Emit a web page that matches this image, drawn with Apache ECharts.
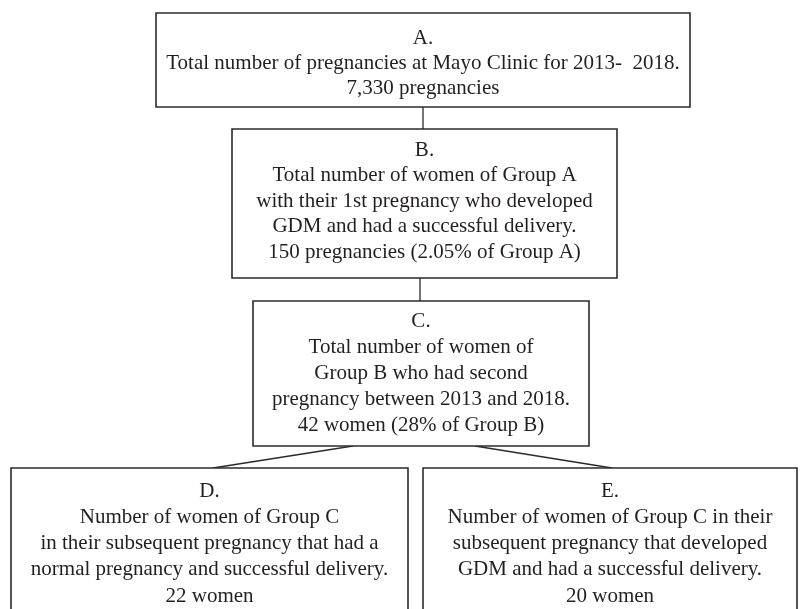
<!DOCTYPE html>
<html>
<head>
<meta charset="utf-8">
<script src="https://cdn.jsdelivr.net/npm/echarts@6/dist/echarts.min.js"></script>
<style>html,body{margin:0;padding:0;background:#fff}#c{width:808px;height:609px}</style>
</head>
<body>
<div id="c"></div>
<script>
// ---- data ----
const boxIds = ['A', 'B', 'C', 'D', 'E'];
const boxHeads = ['A.', 'B.', 'C.', 'D.', 'E.'];
const boxBodies = [
  ['Total number of pregnancies at Mayo Clinic for 2013-  2018.'],
  ['Total number of women of Group A', 'with their 1st pregnancy who developed', 'GDM and had a successful delivery.'],
  ['Total number of women of', 'Group B who had second', 'pregnancy between 2013 and 2018.'],
  ['Number of women of Group C', 'in their subsequent pregnancy that had a', 'normal pregnancy and successful delivery.'],
  ['Number of women of Group C in their', 'subsequent pregnancy that developed', 'GDM and had a successful delivery.']
];
const boxCounts = ['7,330 pregnancies', '150 pregnancies (2.05% of Group A)', '42 women (28% of Group B)', '22 women', '20 women'];
const links = [['A', 'B'], ['B', 'C'], ['C', 'D'], ['C', 'E']];

// ---- layout (positions in the hidden axis units) ----
const layout = {
  A: {x0: 156, x1: 690, y0: 13, y1: 107, ty: 25, lh: 25},
  B: {x0: 232, x1: 617, y0: 129, y1: 278, ty: 21, lh: 25.5},
  C: {x0: 253, x1: 589, y0: 301, y1: 446, ty: 20, lh: 26},
  D: {x0: 11, x1: 408, y0: 468, y1: 640, ty: 23, lh: 26.3},
  E: {x0: 423, x1: 797, y0: 468, y1: 640, ty: 23, lh: 26.3}
};
const linkLayout = {
  'A-B': {sx: 423, tx: 423},
  'B-C': {sx: 420, tx: 420},
  'C-D': {sx: 353, tx: 213},
  'C-E': {sx: 475, tx: 612}
};

const boxData = boxIds.map((id, i) => {
  const L = layout[id];
  return [L.x0, L.y0, L.x1, L.y1, i];
});
const linkData = links.map(([s, t]) => {
  const k = linkLayout[s + '-' + t];
  return [k.sx, layout[s].y1, k.tx, layout[t].y0];
});

const FONT = '"Liberation Serif", "DejaVu Serif", serif';
const FS = 21;
const chart = echarts.init(document.getElementById('c'), null, {renderer: 'canvas'});
chart.setOption({
  animation: false,
  backgroundColor: '#ffffff',
  grid: {left: 0, right: 0, top: 0, bottom: 0},
  xAxis: {type: 'value', min: 0, max: 808, show: false},
  yAxis: {type: 'value', min: 0, max: 609, inverse: true, show: false},
  series: [
    {
      type: 'custom',
      coordinateSystem: 'cartesian2d',
      data: linkData,
      clip: false,
      renderItem: function (params, api) {
        const p1 = api.coord([api.value(0), api.value(1)]);
        const p2 = api.coord([api.value(2), api.value(3)]);
        return {
          type: 'line',
          shape: {x1: p1[0], y1: p1[1], x2: p2[0], y2: p2[1]},
          style: {stroke: '#2b2b2b', lineWidth: 1.3}
        };
      }
    },
    {
      type: 'custom',
      coordinateSystem: 'cartesian2d',
      data: boxData,
      clip: false,
      renderItem: function (params, api) {
        const i = api.value(4);
        const L = layout[boxIds[i]];
        const p1 = api.coord([api.value(0), api.value(1)]);
        const p2 = api.coord([api.value(2), api.value(3)]);
        const lines = [boxHeads[i]].concat(boxBodies[i], [boxCounts[i]]);
        return {
          type: 'group',
          children: [
            {
              type: 'rect',
              shape: {x: p1[0], y: p1[1], width: p2[0] - p1[0], height: p2[1] - p1[1]},
              style: {fill: '#ffffff', stroke: '#2b2b2b', lineWidth: 1.6}
            },
            {
              type: 'text',
              x: (p1[0] + p2[0]) / 2,
              y: p1[1] + L.ty - L.lh / 2,
              style: {
                text: lines.join('\n'),
                fill: '#231f20',
                font: FS + 'px ' + FONT,
                lineHeight: L.lh,
                align: 'center',
                verticalAlign: 'top'
              }
            }
          ]
        };
      }
    }
  ]
});
</script>
</body>
</html>
